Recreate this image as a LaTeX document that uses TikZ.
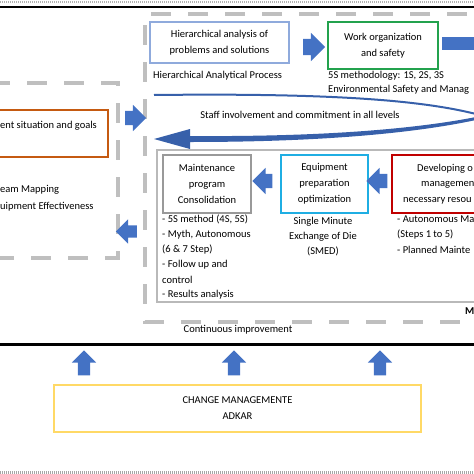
\documentclass[tikz,border=0pt]{standalone}
\usepackage{fontspec}
\setmainfont{Carlito}
\usetikzlibrary{shapes.arrows}
\definecolor{officeblue}{HTML}{4472C4}
\definecolor{curveblue}{HTML}{3760AA}
\definecolor{hierblue}{HTML}{8FAADC}
\definecolor{workgreen}{HTML}{23A24D}
\definecolor{equipcyan}{HTML}{1FAEE3}
\definecolor{devred}{HTML}{C00000}
\definecolor{curorange}{HTML}{C55A11}
\definecolor{adkaryellow}{HTML}{FFD966}
\definecolor{framegray}{HTML}{BFBFBF}
\tikzset{
    box/.style={draw, line width=1.6pt, align=center, inner sep=0pt, font=\fontsize{10.5}{16}\selectfont},
    note/.style={inner sep=0pt, align=center, font=\fontsize{10.5}{15}\selectfont},
    blockarrow/.style={single arrow, fill=officeblue, draw=none, inner xsep=0pt, single arrow head extend=6pt},
    dashframe/.style={framegray, line width=4pt, dash pattern=on 20pt off 17pt}
}
\begin{document}
\begin{tikzpicture}[x=1pt,y=-1pt]
    \useasboundingbox (0,0) rectangle (474,474);
    \clip (0,0) rectangle (474,474);
    % page rules
    \draw[gray!60, line width=2pt, dash pattern=on 1pt off 1pt] (0,2) -- (474,2);
    \draw[line width=2.5pt] (0,7) -- (474,7);
    \draw[line width=3pt] (0,344) -- (474,344);
    \draw[gray!70, line width=3pt, dash pattern=on 1pt off 1pt] (0,472) -- (474,472);
    % dashed frames
    \draw[dashframe, dash phase=6pt] (-4,83) -- (118,83) -- (118,258) -- (-4,258);
    \draw[dashframe, dash phase=24pt] (480,14) -- (145,14) -- (145,322) -- (480,322);
    \draw[gray!55, line width=2pt] (157,150) rectangle (480,302);
    % boxes
    \node[box, draw=hierblue, minimum width=139pt, minimum height=41pt] (hier) at (219.5,42.5) {Hierarchical analysis of\\problems and solutions};
    \node[box, draw=workgreen, minimum width=110pt, minimum height=47pt] (work) at (383,45.5) {Work organization\\and safety};
    \node[box, draw=framegray!80!black, minimum width=88pt, minimum height=58pt] (maint) at (207,184) {Maintenance\\program\\Consolidation};
    \node[box, draw=equipcyan, minimum width=87pt, minimum height=58pt] (equip) at (324.5,184) {Equipment\\preparation\\optimization};
    \node[box, draw=devred, minimum width=113pt, minimum height=58pt] (dev) at (448.5,184) {};
    \node[box, draw=curorange, line width=2.4pt, minimum width=128pt, minimum height=47pt] (cur) at (44,133.5) {};
    \node[box, draw=adkaryellow, line width=2pt, minimum width=367pt, minimum height=47pt, font=\fontsize{10.5}{16}\selectfont] (adkar) at (237.5,408.5) {CHANGE MANAGEMENTE\\ADKAR};
    % cut texts
    \foreach \x/\y/\n/\l in {0/126/curT/{ent situation and goals},0/190/vsm/{eam Mapping},0/207/oee/{uipment Effectiveness},417/169/devA/{Developing o},421/185/devB/{managemen},403/201/devC/{necessary resou}}{
        \node[note, anchor=west] (\n) at (\x,\y) {\l};
    }
    % notes
    \foreach \x/\y/\n/\l in {153/76/hap/{Hierarchical Analytical Process},328/76/fiveS/{5S methodology: 1S, 2S, 3S},328/90/env/{Environmental Safety and Manag},162/219/mA/{- 5S method (4S, 5S)},162/235/mB/{- Myth, Autonomous},162/250/mC/{(6 \& 7 Step)},162/265/mD/{- Follow up and},162/280/mE/{control},162/295/mF/{- Results analysis},397/219/dA/{- Autonomous Ma},397/235/dB/{(Steps 1 to 5)},397/250/dC/{- Planned Mainte}}{
        \node[note, anchor=west] (\n) at (\x,\y) {\l};
    }
    \node[note] (smed) at (323,237) {Single Minute\\Exchange of Die\\(SMED)};
    \node[note] (staff) at (300,115) {Staff involvement and commitment in all levels};
    \node[note] (cont) at (238,330) {Continuous improvement};
    \node[note, anchor=west, font=\fontsize{10.5}{15}\selectfont\bfseries] (mlab) at (465,311) {M};
    % block arrows
    \foreach \x/\y/\r/\l/\s/\n in {310/47/0/22/8/aHW,132/118/0/21/7/aIn,129.5/231.5/180/21/6/aOut,266/181/180/20/7/aEM,380.5/181/180/21/7/aDE,84/366/90/25/6/uA,234/366/90/25/6/uB,380/366/90/25/6/uC}{
        \node[blockarrow, rotate=\r, minimum height=\l pt, inner ysep=\s pt] (\n) at (\x,\y) {};
    }
    \fill[officeblue] (442,37) rectangle (480,50);
    % staff loop
    \draw[curveblue, line width=2pt] (154,95) .. controls (330,93) and (420,100) .. (476,114);
    \fill[curveblue] (154,139) -- (190,129) -- (190,136) .. controls (330,137) and (420,128) .. (476,117) -- (476,120) .. controls (420,132) and (330,142) .. (190,142) -- (190,149) -- cycle;
\end{tikzpicture}
\end{document}
